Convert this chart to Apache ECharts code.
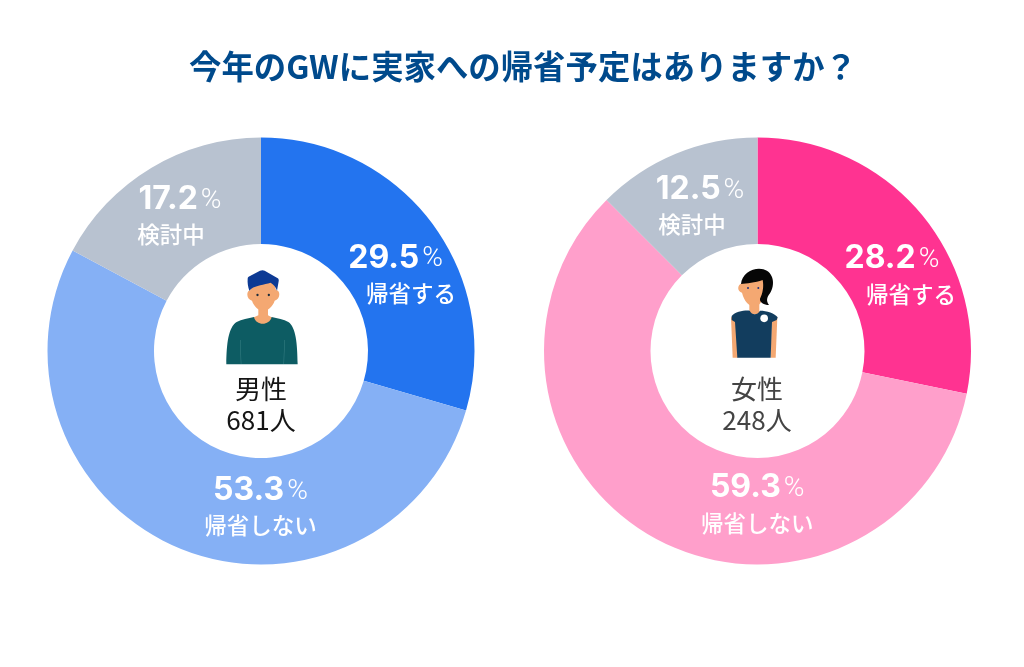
<!DOCTYPE html>
<html>
<head>
<meta charset="utf-8">
<style>html,body{margin:0;padding:0;background:#fff}#c{width:1024px;height:667px}</style>
<script src="https://cdn.jsdelivr.net/npm/echarts@6/dist/echarts.min.js"></script>
</head>
<body>
<div id="c"></div>
<script>
const chartTitle = '今年のGWに実家への帰省予定はありますか？';
const categories = ['帰省する', '帰省しない', '検討中'];
const maleValues = [29.5, 53.3, 17.2];
const femaleValues = [28.2, 59.3, 12.5];
const maleColors = ['#2374ef', '#85b0f5', '#b8c2d0'];
const femaleColors = ['#ff3391', '#ff9fcb', '#b8c2d0'];
// Per-slice label placement: [dx, dy, extra space left of the figure, extra space left of the caption]
const maleLabelPlacement = [[4, 21, 0, 31], [61, 4, 0, 0], [-6, 4, 18, 0]];
const femaleLabelPlacement = [[8, 27, 0, 38], [77, 9, 0, 0], [-3, 5, 16, 0]];

const cjk = '"Noto Sans CJK JP"';

function donut(center, values, colors, placement) {
  return {
    type: 'pie',
    center,
    radius: [107, 213.5],
    startAngle: 90,
    clockwise: true,
    silent: true,
    animation: false,
    itemStyle: { borderWidth: 0 },
    labelLine: { show: false },
    data: categories.map((name, i) => ({
      name,
      value: values[i],
      itemStyle: { color: colors[i] },
      label: {
        show: true,
        position: 'inside',
        offset: placement[i].slice(0, 2),
        formatter: `{num|${values[i].toFixed(1)}}{pct|%}\n{cat|${name}}`,
        rich: {
          num: { fontFamily: 'Inter', fontWeight: 700, fontSize: 32, color: '#fff', lineHeight: 39,
                 padding: [0, 0, 0, placement[i][2]] },
          pct: { fontFamily: 'Roboto', fontWeight: 300, fontSize: 28, color: '#fff', lineHeight: 39,
                 padding: [3, 0, 0, 3] },
          cat: { fontFamily: cjk, fontWeight: 500, fontSize: 22.5, color: '#fff', lineHeight: 32,
                 padding: [0, 0, 0, placement[i][3]] }
        }
      }
    }))
  };
}

// Figures are sketched at 3x and scaled down inside their groups.
let shapeCount = 0;
function figure(x, y, parts) {
  return {
    type: 'group', x, y, scaleX: 1 / 3, scaleY: 1 / 3, silent: true,
    children: parts.map(([d, fill]) => {
      const name = 'figurePart' + (shapeCount++);
      echarts.graphic.registerShape(name, echarts.graphic.extendPath(d, {}));
      return { type: name, style: { fill } };
    })
  };
}

const skin = '#f4a872';
const manParts = [
  ['M139 373 C140 310 145 262 170 246 C185 238 205 235 222 231 L275 231 C292 235 312 238 325 246 C348 262 352 310 353 373 Z', '#0d5c63'],
  ['M180 300 L181.5 300 L184 372 L182.5 372 Z', '#3a8186'],
  ['M313 300 L314.5 300 L312 372 L310.5 372 Z', '#3a8186'],
  ['M222 232 C228 258 268 258 275 232 L264 226 L264 196 L235 196 L235 226 Z', skin],
  ['M212 150 C198 150 198 178 216 182 C222 200 236 212 250 212 C264 212 278 200 284 182 C302 178 302 150 288 150 L280 120 L220 120 Z', skin],
  ['M203 116 C203 112 206 110 210 108 L240 92 C245 90 250 90 254 92 L292 114 C296 116 297 120 296 124 L291 152 C288 142 282 134 272 128 C252 134 228 136 214 146 L208 152 C204 140 202 128 203 116 Z', '#0d3a94'],
  ['M229 165 A3.5 3.5 0 1 1 236 165 A3.5 3.5 0 1 1 229 165 Z', '#1c2b3a'],
  ['M263 165 A3.5 3.5 0 1 1 270 165 A3.5 3.5 0 1 1 263 165 Z', '#1c2b3a']
];
const womanParts = [
  ['M153 232 L170 232 L174 353 L158 353 Z', skin],
  ['M275 232 L292 232 L287 353 L272 353 Z', skin],
  ['M208 185 L238 185 L238 222 L208 222 Z', skin],
  ['M186 130 C170 135 172 155 186 158 C192 184 208 200 224 200 C242 198 252 175 254 150 L250 115 L195 115 Z', skin],
  ['M183 132 C185 98 225 80 250 88 C282 97 286 135 270 160 C260 172 258 184 267 195 C252 195 238 186 240 176 C248 160 252 140 248 120 C225 128 200 130 183 132 Z', '#060606'],
  ['M155 228 C165 215 195 210 209 212 C216 226 232 226 240 212 C260 212 285 220 293 232 L290 240 L276 246 L272 353 L172 353 L165 246 L155 240 Z', '#123d5e'],
  ['M241 235 A11.5 11.5 0 1 1 264 235 A11.5 11.5 0 1 1 241 235 Z', '#ffffff'],
  ['M201 144 A3 3 0 1 1 207 144 A3 3 0 1 1 201 144 Z', '#23307a'],
  ['M232 144 A3 3 0 1 1 238 144 A3 3 0 1 1 232 144 Z', '#23307a']
];

function centerText(x, y, text, fill) {
  return {
    type: 'text', x, y, silent: true,
    style: { text, fill, align: 'center', verticalAlign: 'middle',
             font: `400 26px ${cjk}` }
  };
}

const chart = echarts.init(document.getElementById('c'), null, { renderer: 'canvas' });
chart.setOption({
  animation: false,
  backgroundColor: '#ffffff',
  title: {
    text: chartTitle,
    left: 518, top: 45, textAlign: 'center',
    textStyle: { fontFamily: cjk, fontWeight: 700, fontSize: 32.4, color: '#004a8c' }
  },
  series: [
    donut([261, 351], maleValues, maleColors, maleLabelPlacement),
    donut([757.5, 351], femaleValues, femaleColors, femaleLabelPlacement)
  ],
  graphic: [
    figure(180, 240, manParts),
    figure(680, 240, womanParts),
    centerText(261, 389, '男性', '#151515'),
    centerText(261, 420, '681人', '#151515'),
    centerText(757, 389, '女性', '#444444'),
    centerText(757, 420, '248人', '#444444')
  ]
});
</script>
</body>
</html>
